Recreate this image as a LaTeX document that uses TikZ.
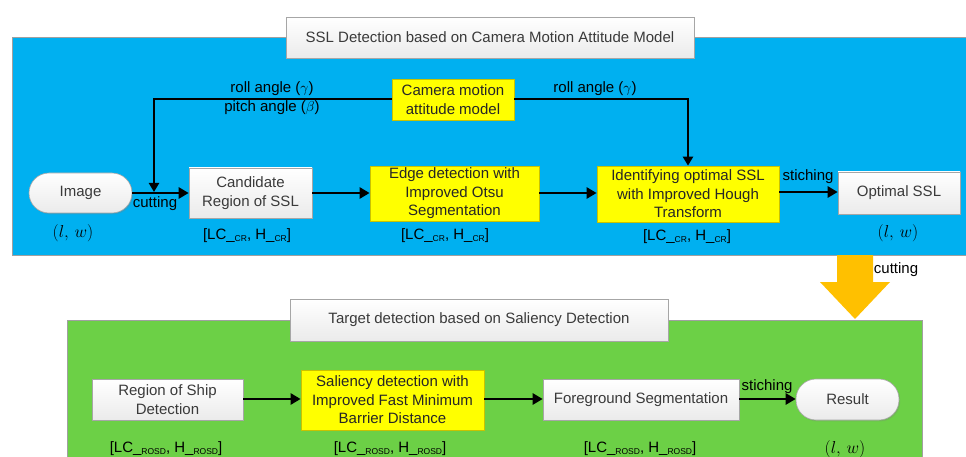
\documentclass[tikz,border=0pt]{standalone}
\usepackage{fontspec}
\setmainfont{Liberation Sans}
\usetikzlibrary{arrows.meta,shadows}

\definecolor{panelblue}{HTML}{00B0F0}
\definecolor{panelgreen}{HTML}{6CD046}
\definecolor{boxyellow}{HTML}{FFFF00}
\definecolor{yellowedge}{HTML}{C9C200}
\definecolor{arroworange}{HTML}{FFC000}
\definecolor{boxedge}{HTML}{A6A6A6}
\definecolor{boxtext}{HTML}{3A3A3A}
\definecolor{paneledge}{HTML}{A0A0A0}

% small lowered index used in the size labels
\newcommand{\lblidx}[1]{\raisebox{-1.2pt}{\fontsize{8.5}{8.5}\selectfont #1}}

\begin{document}
\begin{tikzpicture}[x=1pt,y=-1pt,
  font=\fontsize{15}{18.5}\selectfont,
  whitebox/.style={draw=boxedge, line width=0.6pt, top color=white,
    bottom color=gray!16, text=boxtext, align=center, inner sep=0pt,
    drop shadow={shadow xshift=1.2pt, shadow yshift=-1.4pt, opacity=0.28}},
  pill/.style={whitebox, rounded corners=20pt},
  yellowbox/.style={draw=yellowedge, line width=0.7pt, fill=boxyellow,
    text=black!85, align=center, inner sep=0pt},
  flow/.style={line width=2.7pt, -{Triangle[length=10pt,width=11pt]}},
  feedtip/.style={line width=2.3pt, -{Triangle[length=9pt,width=10pt]}},
  lbl/.style={inner sep=0pt, text=black},
  sizelbl/.style={lbl, font=\fontsize{16}{18}\selectfont},
]
\useasboundingbox (0,0) rectangle (966,457);
\fill[white] (0,0) rectangle (966,457);

% ---------- upper stage: sea-sky line detection ----------
\fill[panelblue] (12,37) rectangle (970,255);
\draw[paneledge, line width=0.6pt] (970,37) -- (12,37) -- (12,255) -- (970,255);
\node[whitebox, minimum width=408pt, minimum height=41pt] (title1) at (490,37.5)
  {SSL Detection based on Camera Motion Attitude Model};

\node[yellowbox, minimum width=122pt, minimum height=41pt] (cam) at (453,99.5)
  {Camera motion\\attitude model};

\node[pill, minimum width=103pt, minimum height=40pt] (img) at (80.5,193) {Image};
\node[whitebox, minimum width=123pt, minimum height=50pt] (cand) at (250.5,193)
  {Candidate\\Region of SSL};
\node[yellowbox, minimum width=169pt, minimum height=55pt] (edge) at (454.5,193.5)
  {Edge detection with\\Improved Otsu\\Segmentation};
\node[yellowbox, minimum width=182pt, minimum height=56pt] (ident) at (688,194)
  {Identifying optimal SSL\\with Improved Hough\\Transform};
\node[whitebox, minimum width=122pt, minimum height=42pt] (opt) at (899,193)
  {Optimal SSL};

\coordinate (join) at (154,192);
\draw[flow] (img.east |- 0,193) -- (cand.west |- 0,193);
\draw[flow] (cand.east |- 0,193) -- (edge.west |- 0,193);
\draw[flow] (edge.east |- 0,193) -- (ident.west |- 0,193);
\draw[flow] (ident.east |- 0,192) -- (opt.west |- 0,192);
\draw[feedtip] (cam.west |- 0,99) -| (join);
\draw[feedtip] (cam.east |- 0,99) -| (ident.north);

\node[lbl] (roll1) at (272,89) {roll angle ($\gamma$)};
\node[lbl] (pitch1) at (272,108) {pitch angle ($\beta$)};
\node[lbl] (roll2) at (595,89) {roll angle ($\gamma$)};
\node[lbl] (cut1) at (155,204) {cutting};
\node[lbl] (stich1) at (808,177) {stiching};

\node[sizelbl] (sz1) at (73,233) {$(l,\,w)$};
\node[lbl] (sz2) at (247,236) {[LC\_\lblidx{CR}, H\_\lblidx{CR}]};
\node[lbl] (sz3) at (445,236) {[LC\_\lblidx{CR}, H\_\lblidx{CR}]};
\node[lbl] (sz4) at (687,237) {[LC\_\lblidx{CR}, H\_\lblidx{CR}]};
\node[sizelbl] (sz5) at (898,233) {$(l,\,w)$};

% ---------- lower stage: saliency-based target detection ----------
\fill[panelgreen] (67,320) rectangle (922,470);
\draw[paneledge, line width=0.6pt] (67,470) -- (67,320) -- (922,320) -- (922,470);

\fill[arroworange] (837,255) -- (873,255) -- (873,282) -- (890,282)
  -- (855,319) -- (820,282) -- (837,282) -- cycle;
\node[lbl] (cut2) at (896,270) {cutting};

\node[whitebox, minimum width=378pt, minimum height=42pt] (title2) at (479,320)
  {Target detection based on Saliency Detection};

\node[whitebox, minimum width=151pt, minimum height=41pt] (region) at (167.5,399.5)
  {Region of Ship\\Detection};
\node[yellowbox, minimum width=183pt, minimum height=60pt] (sal) at (392.5,400)
  {Saliency detection with\\Improved Fast Minimum\\Barrier Distance};
\node[whitebox, minimum width=196pt, minimum height=41pt] (fg) at (641,399.5)
  {Foreground Segmentation};
\node[pill, minimum width=103pt, minimum height=41pt] (res) at (847.5,399.5) {Result};

\draw[flow] (region.east |- 0,399) -- (sal.west |- 0,399);
\draw[flow] (sal.east |- 0,399) -- (fg.west |- 0,399);
\draw[flow] (fg.east |- 0,399) -- (res.west |- 0,399);
\node[lbl] (stich2) at (767,387) {stiching};

\node[lbl] (sz6) at (166,449) {[LC\_\lblidx{ROSD}, H\_\lblidx{ROSD}]};
\node[lbl] (sz7) at (390,449) {[LC\_\lblidx{ROSD}, H\_\lblidx{ROSD}]};
\node[lbl] (sz8) at (640,449) {[LC\_\lblidx{ROSD}, H\_\lblidx{ROSD}]};
\node[sizelbl] (sz9) at (845,449) {$(l,\,w)$};
\end{tikzpicture}
\end{document}
